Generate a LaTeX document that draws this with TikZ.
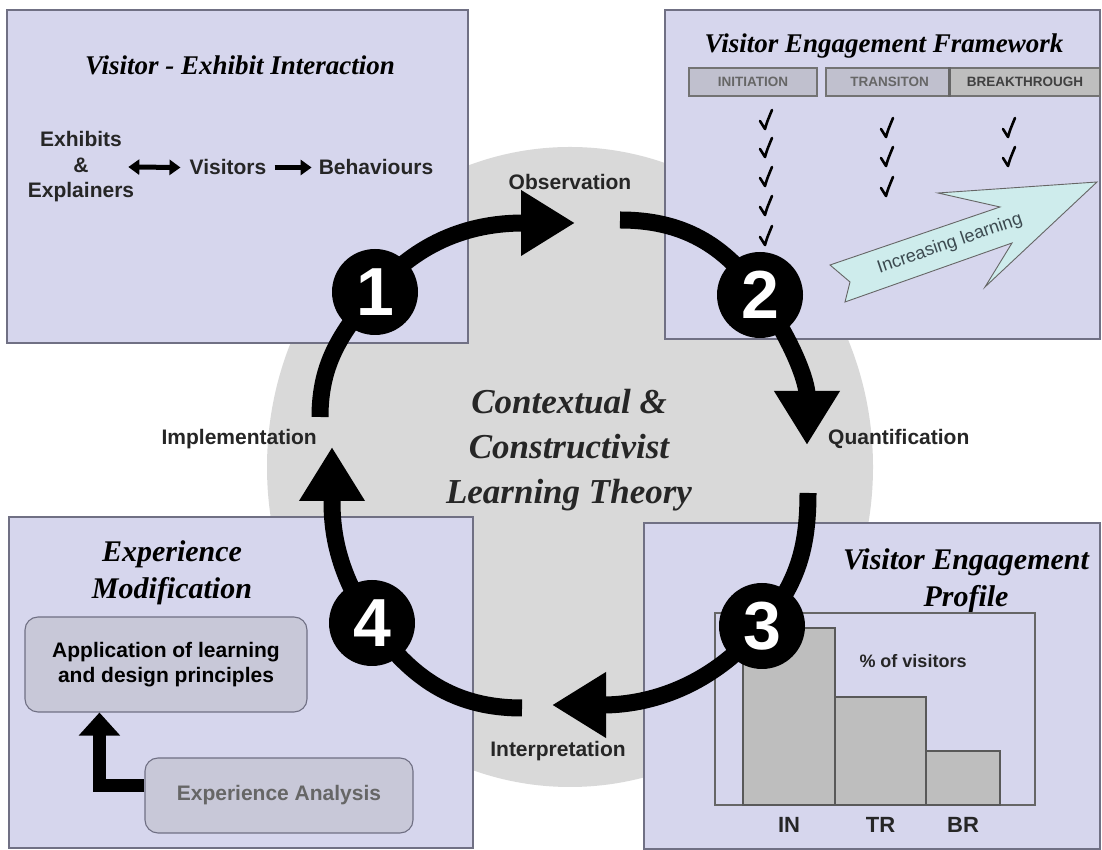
\documentclass[tikz,border=0pt]{standalone}
\usepackage{fontspec}
\setmainfont{Liberation Sans}
\newfontfamily\titlefont{Liberation Serif}
\usetikzlibrary{arrows.meta}

\definecolor{hubgray}{RGB}{217,217,217}
\definecolor{panel}{RGB}{214,214,237}
\definecolor{panelline}{RGB}{112,112,132}
\definecolor{barfill}{RGB}{192,192,206}
\definecolor{boxgray}{RGB}{200,200,216}
\definecolor{chartbar}{RGB}{190,190,190}
\definecolor{learncyan}{RGB}{206,236,236}
\definecolor{learntext}{RGB}{60,74,80}

\begin{document}
\begin{tikzpicture}[x=1pt, y=1pt,
    panelbox/.style={fill=panel, draw=panelline, line width=1.1pt},
    heading/.style={font=\titlefont\bfseries\itshape\fontsize{27}{33}\selectfont, align=center, inner sep=0pt},
    bigheading/.style={font=\titlefont\bfseries\itshape\fontsize{30}{37}\selectfont, align=center, inner sep=0pt},
    theory/.style={font=\titlefont\bfseries\itshape\fontsize{35}{45}\selectfont, align=center, inner sep=0pt, text=black!85},
    txt/.style={font=\bfseries\fontsize{21}{25.5}\selectfont, align=center, inner sep=0pt, text=black!85},
    stagebar/.style={rectangle, fill=barfill, draw=black!55, line width=1.2pt, minimum height=28pt,
      inner sep=0pt, font=\bfseries\fontsize{13.5}{14}\selectfont, text=black!60},
    roundbox/.style={rectangle, rounded corners=13pt, fill=boxgray, draw=panelline, line width=1.1pt,
      align=center, font=\bfseries\fontsize{21}{25}\selectfont},
    num/.style={circle, fill=black, minimum size=86pt, inner sep=0pt, text=white,
      font=\bfseries\fontsize{68}{68}\selectfont},
    cyc/.style={line width=17pt, -{Triangle[width=62pt,length=54pt]}},
    flow/.style={line width=5pt, >={Triangle[width=15pt,length=11pt]}},
    chkmark/.pic={\draw[line width=2.6pt, line cap=round, line join=round]
      (-7,-1) -- (-2,-9) .. controls (0,-2) .. (5,10);}
  ]
  \useasboundingbox (0,0) rectangle (1102,850);
  \fill[white] (0,0) rectangle (1102,850);
  \fill[hubgray] (570,383) ellipse [x radius=303, y radius=320];

  % the four panels
  \draw[panelbox] (7,507) rectangle (468,840);
  \draw[panelbox] (665,511) rectangle (1100,840);
  \draw[panelbox] (9,2) rectangle (473,333);
  \draw[panelbox] (644,1) rectangle (1100,327);

  % top left: interaction
  \node[heading, anchor=base] (vei) at (240,775) {Visitor - Exhibit Interaction};
  \node[txt] (exh) at (81,683) {Exhibits\\\&\\Explainers};
  \node[txt, anchor=base] (vis) at (228,675) {Visitors};
  \node[txt, anchor=base] (beh) at (376,675) {Behaviours};
  \draw[flow,<->] ([xshift=-6pt]exh.east) -- ([xshift=-9pt]vis.west);
  \draw[flow,->] ([xshift=8pt]vis.east) -- ([xshift=-7pt]beh.west);

  % top right: framework
  \node[heading, anchor=base] (vef) at (884,797) {Visitor Engagement Framework};
  \node[stagebar, minimum width=128pt] (ini) at (753,768) {INITIATION};
  \node[stagebar, minimum width=127pt] (tra) at (889.5,768) {TRANSITON};
  \node[stagebar, minimum width=150pt, fill=chartbar, text=black!75] (brk) at (1025,768) {BREAKTHROUGH};
  \draw[line width=2.5pt, black!60] (brk.north west) -- (brk.south west);
  \foreach \y in {730,702,673,644,614} \pic at (767,\y) {chkmark};
  \foreach \y in {722,693,663} \pic at (888,\y) {chkmark};
  \foreach \y in {722,693} \pic at (1010,\y) {chkmark};
  \draw[fill=learncyan, draw=black!60, line width=0.9pt]
    (830,585) -- (1000,643) -- (938,657) -- (1097,668) -- (985,563)
    -- (1012,607) -- (845,548) -- (850,568) -- cycle;
  \node[font=\fontsize{18}{20}\selectfont, text=learntext, rotate=19] (inc) at (950,606) {Increasing learning};

  % bottom left: modification
  \node[bigheading] (exm) at (172,277) {Experience\\Modification};
  \node[roundbox, minimum width=282pt, minimum height=95pt] (app) at (166,185.5) {Application of learning\\and design principles};
  \node[roundbox, minimum width=268pt, minimum height=75pt, text=black!60] (ana) at (279,54.5) {Experience Analysis};
  \draw[line width=13pt, -{Triangle[width=40pt,length=23pt]}] ([yshift=10pt]ana.west) -| ([xshift=75pt]app.south west);

  % bottom right: profile
  \node[bigheading] (vep) at (966,269) {Visitor Engagement\\Profile};
  \draw[draw=black!60, line width=1.1pt] (715,45) rectangle (1035,237);
  \foreach \x/\w/\h/\name in {743/92/177/IN, 835/91/108/TR, 926/74/54/BR} {
    \draw[fill=chartbar, draw=black!65, line width=1.1pt] (\x,45) rectangle ++(\w,\h);
    \node[txt, font=\bfseries\fontsize{22}{26}\selectfont, anchor=base] (lbl\name) at (\x+\w/2,17) {\name};
  }
  \node[txt, font=\bfseries\fontsize{18}{20}\selectfont, anchor=base] (pct) at (913,182) {\% of visitors};

  % hub
  \node[theory] (clt) at (569,400) {Contextual \&\\Constructivist\\Learning Theory};
  \node[txt, anchor=base] (obs) at (570,660) {Observation};
  \node[txt, anchor=base west] (qua) at (828,405) {Quantification};
  \node[txt, anchor=base east] (imp) at (317,405) {Implementation};
  \node[txt, anchor=base] (int) at (558,93) {Interpretation};

  % cycle
  \coordinate (c1) at (375,558);
  \coordinate (c2) at (760,555);
  \coordinate (c3) at (762,224);
  \coordinate (c4) at (372,227);
  \coordinate (a1s) at (320,433);
  \coordinate (a1e) at (575,627);
  \coordinate (a2s) at (620,630);
  \coordinate (a2e) at (807,405);
  \coordinate (a3s) at (808,357);
  \coordinate (a3e) at (552,145);
  \coordinate (a4s) at (522,142);
  \coordinate (a4e) at (332,403);
  \draw[cyc] (a1s) to[out=90,in=230] (c1) to[out=50,in=180] (a1e);
  \draw[cyc] (a2s) to[out=0,in=125] (c2) to[out=-55,in=90] (a2e);
  \draw[cyc] (a3s) to[out=-90,in=50] (c3) to[out=-130,in=0] (a3e);
  \draw[cyc] (a4s) to[out=180,in=-55] (c4) to[out=125,in=-90] (a4e);
  \node[num] (n1) at (c1) {1};
  \node[num] (n2) at (c2) {2};
  \node[num] (n3) at (c3) {3};
  \node[num] (n4) at (c4) {4};
\end{tikzpicture}
\end{document}
